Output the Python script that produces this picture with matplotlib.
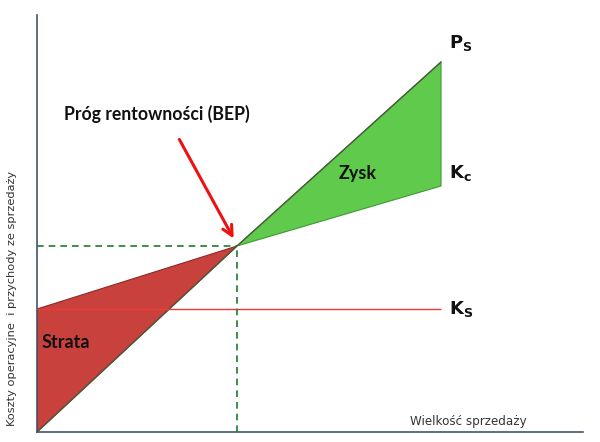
import matplotlib
matplotlib.use("Agg")
import matplotlib.pyplot as plt
import numpy as np

# quantity axis (BEP at 100) and values
quantity = [0, 100, 202]
revenue = [0, 93, 185]        # Ps
total_cost = [61.5, 93, 123]  # Kc
fixed_cost = 61.5             # Ks
bep_q, bep_v = 100, 93

red = '#c9413d'
green = '#5fca4c'

fig = plt.figure(figsize=(6, 4.42), dpi=100)
ax = fig.add_axes([37/600, 10/442, 546/600, 417/442])
ax.set_xlim(0, 273)
ax.set_ylim(0, 208.5)
for s in ['top', 'right']:
    ax.spines[s].set_visible(False)
for s in ['left', 'bottom']:
    ax.spines[s].set_color('#44546a')
    ax.spines[s].set_linewidth(1.2)
ax.set_xticks([])
ax.set_yticks([])

# loss triangle
ax.fill([quantity[0], quantity[1], quantity[0]],
        [total_cost[0], total_cost[1], revenue[0]],
        color=red, edgecolor='#8a2a27', linewidth=0.8, zorder=2)
# profit area
ax.fill([quantity[1], quantity[2], quantity[2]],
        [revenue[1], revenue[2], total_cost[2]],
        color=green, edgecolor='#3f9a35', linewidth=0.8, zorder=2)

ax.plot(quantity, revenue, color='#4a5a3a', lw=1.0, zorder=3)
ax.hlines(fixed_cost, 0, quantity[2], color='#ee3b36', lw=1.0, zorder=3)

# BEP dashed guides
ax.hlines(bep_v, 0, bep_q, color='#1f7a2e', lw=1.2, linestyles=(0, (4, 3)), zorder=4)
ax.vlines(bep_q, 0, bep_v, color='#1f7a2e', lw=1.2, linestyles=(0, (4, 3)), zorder=4)

ax.annotate('', xy=(99, 95.5), xytext=(70.5, 147.5),
            arrowprops=dict(arrowstyle='->', color='#ee1111', lw=2.2,
                            mutation_scale=18), zorder=5)

bold = dict(fontweight='bold', family='Lato', color='#111111')
ax.text(60, 159, 'Próg rentowności (BEP)', ha='center', va='center', fontsize=12.7, **bold)
ax.text(160.5, 129.5, 'Zysk', ha='center', va='center', fontsize=13, **bold)
ax.text(2.5, 44.5, 'Strata', ha='left', va='center', fontsize=13, **bold)

lab = dict(ha='left', va='center', fontsize=13, color='#111111', clip_on=False)
ax.text(206, 194.5, r'$\mathbf{P_S}$', **lab)
ax.text(206, 129.5, r'$\mathbf{K_c}$', **lab)
ax.text(206, 61.5, r'$\mathbf{K_S}$', **lab)

fig.text(12/600, 1-298/442, 'Koszty operacyjne  i przychody ze sprzedaży',
         rotation=90, ha='center', va='center', fontsize=8.2, color='#333333')
fig.text(468/600, 1-421/442, 'Wielkość sprzedaży', ha='center', va='center',
         fontsize=8.6, color='#333333')

plt.savefig('out.png')
